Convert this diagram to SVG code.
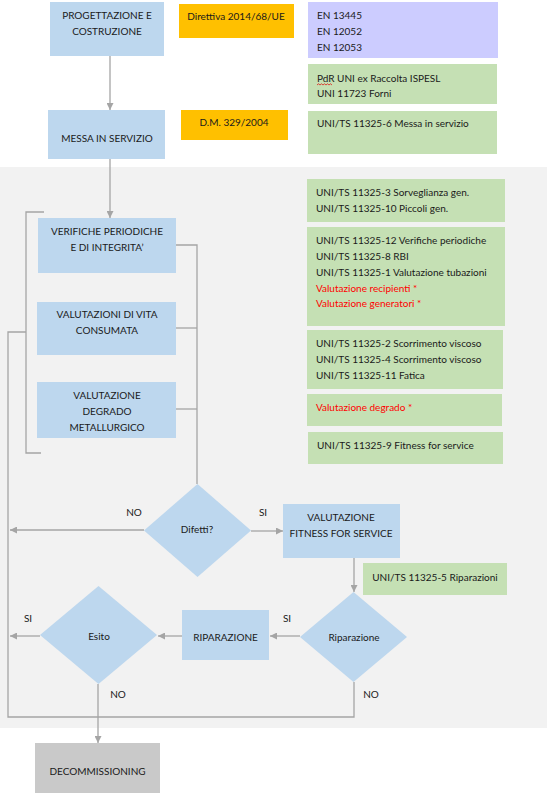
<svg xmlns="http://www.w3.org/2000/svg" width="550" height="794" viewBox="0 0 550 794">
<defs>
<style>
text{font-family:Lato,"Open Sans","Liberation Sans",sans-serif;font-size:10px;fill:#1a1a1a}
.c{text-anchor:middle}
.r{fill:#ff0000}
.blue{fill:#bdd7ee}
.green{fill:#c5e0b4}
.orange{fill:#ffc000}
.purple{fill:#ccccff}
.conn{fill:none;stroke:#a5a5a5;stroke-width:1.3}
</style>
<marker id="ah" viewBox="0 0 10 10" refX="10" refY="5" markerWidth="7" markerHeight="7" markerUnits="userSpaceOnUse" orient="auto">
<path d="M0,0 L10,5 L0,10 z" fill="#a5a5a5"/>
</marker>
</defs>
<rect x="0" y="0" width="550" height="794" fill="#ffffff"/>
<rect x="0" y="167" width="547" height="561" fill="#f2f2f2"/>

<g id="connectors">
<path class="conn" d="M110,56 V110" marker-end="url(#ah)"/>
<path class="conn" d="M110,159 V218" marker-end="url(#ah)"/>
<path class="conn" d="M44,212 H26 V453 H41"/>
<path class="conn" d="M26,332 H8 V717 H354 V682"/>
<path class="conn" d="M176,245 H197 V484"/>
<path class="conn" d="M176,328 H197"/>
<path class="conn" d="M175,409 H197"/>
<path class="conn" d="M144,530 H10" marker-end="url(#ah)"/>
<path class="conn" d="M251,531 H283" marker-end="url(#ah)"/>
<path class="conn" d="M354,558 V592" marker-end="url(#ah)"/>
<path class="conn" d="M300,636 H270" marker-end="url(#ah)"/>
<path class="conn" d="M182,636 H158" marker-end="url(#ah)"/>
<path class="conn" d="M40,636 H10" marker-end="url(#ah)"/>
<path class="conn" d="M98,684 V743" marker-end="url(#ah)"/>
</g>

<g id="progettazione">
<rect class="blue" x="50" y="2" width="114" height="54"/>
<text class="c" x="107" y="19">PROGETTAZIONE E</text>
<text class="c" x="107" y="35">COSTRUZIONE</text>
</g>
<g id="direttiva">
<rect class="orange" x="179" y="4" width="115" height="34"/>
<text class="c" x="236" y="20">Direttiva 2014/68/UE</text>
</g>
<g id="en">
<rect class="purple" x="308" y="2" width="190" height="56"/>
<text x="317" y="19">EN 13445</text>
<text x="317" y="35">EN 12052</text>
<text x="317" y="51">EN 12053</text>
</g>
<g id="pdr">
<rect class="green" x="308" y="64" width="189" height="40"/>
<text x="317" y="82">PdR UNI ex Raccolta ISPESL</text>
<text x="317" y="97">UNI 11723  Forni</text>
<path d="M317,85 l1.5,-1.2 l1.5,1.2 l1.5,-1.2 l1.5,1.2 l1.5,-1.2 l1.5,1.2 l1.5,-1.2 l1.5,1.2 l1.5,-1.2 l1.5,1.2" fill="none" stroke="#e00000" stroke-width="0.7"/>
</g>
<g id="messa">
<rect class="blue" x="48" y="110" width="117" height="49"/>
<text class="c" x="107" y="142">MESSA IN SERVIZIO</text>
</g>
<g id="dm">
<rect class="orange" x="181" y="110" width="107" height="30"/>
<text class="c" x="234" y="126">D.M. 329/2004</text>
</g>
<g id="uni6">
<rect class="green" x="308" y="111" width="189" height="43"/>
<text x="317" y="127">UNI/TS 11325-6 Messa in servizio</text>
</g>

<g id="verifiche">
<rect class="blue" x="38" y="218" width="138" height="55"/>
<text class="c" x="107" y="235">VERIFICHE PERIODICHE</text>
<text class="c" x="107" y="251">E DI INTEGRITA’</text>
</g>
<g id="vita">
<rect class="blue" x="37" y="302" width="139" height="53"/>
<text class="c" x="107" y="318">VALUTAZIONI DI VITA</text>
<text class="c" x="107" y="334">CONSUMATA</text>
</g>
<g id="degrado">
<rect class="blue" x="37" y="382" width="139" height="56"/>
<text class="c" x="107" y="399">VALUTAZIONE</text>
<text class="c" x="107" y="415">DEGRADO</text>
<text class="c" x="107" y="431">METALLURGICO</text>
</g>

<g id="uni3">
<rect class="green" x="307" y="179" width="198" height="43"/>
<text x="316" y="196">UNI/TS 11325-3 Sorveglianza gen.</text>
<text x="316" y="212">UNI/TS 11325-10 Piccoli gen.</text>
</g>
<g id="uni12">
<rect class="green" x="307" y="227" width="198" height="99"/>
<text x="316" y="244">UNI/TS 11325-12 Verifiche periodiche</text>
<text x="316" y="260">UNI/TS 11325-8 RBI</text>
<text x="316" y="276">UNI/TS 11325-1 Valutazione tubazioni</text>
<text class="r" x="316" y="292">Valutazione recipienti *</text>
<text class="r" x="316" y="307">Valutazione generatori *</text>
</g>
<g id="uni2">
<rect class="green" x="307" y="330" width="196" height="59"/>
<text x="316" y="347">UNI/TS 11325-2 Scorrimento viscoso</text>
<text x="316" y="363">UNI/TS 11325-4 Scorrimento viscoso</text>
<text x="316" y="379">UNI/TS 11325-11 Fatica</text>
</g>
<g id="valdegrado">
<rect class="green" x="307" y="394" width="195" height="32"/>
<text class="r" x="316" y="411">Valutazione degrado *</text>
</g>
<g id="uni9">
<rect class="green" x="308" y="432" width="195" height="32"/>
<text x="317" y="449">UNI/TS 11325-9 Fitness for service</text>
</g>

<g id="difetti">
<polygon class="blue" points="197.5,484 251,530.5 197.5,577 144,530.5"/>
<text class="c" x="197" y="533">Difetti?</text>
</g>
<g id="labels">
<text x="134" y="516" class="c">NO</text>
<text x="263" y="516" class="c">SI</text>
<text x="28" y="622" class="c">SI</text>
<text x="287" y="622" class="c">SI</text>
<text x="118" y="698" class="c">NO</text>
<text x="371" y="698" class="c">NO</text>
</g>
<g id="fitness">
<rect class="blue" x="283" y="504" width="117" height="54"/>
<text class="c" x="341" y="521">VALUTAZIONE</text>
<text class="c" x="341" y="537">FITNESS FOR SERVICE</text>
</g>
<g id="uni5">
<rect class="green" x="363" y="563" width="144" height="32"/>
<text class="c" x="435" y="581">UNI/TS 11325-5 Riparazioni</text>
</g>
<g id="riparazione-dec">
<polygon class="blue" points="353.5,592 407,637 353.5,682 300,637"/>
<text class="c" x="354" y="641">Riparazione</text>
</g>
<g id="riparazione">
<rect class="blue" x="182" y="610" width="87" height="50"/>
<text class="c" x="225.5" y="641">RIPARAZIONE</text>
</g>
<g id="esito">
<polygon class="blue" points="98.5,586 157,635 98.5,684 40,635"/>
<text class="c" x="99" y="640">Esito</text>
</g>
<g id="decommissioning">
<rect x="35" y="743" width="125" height="50" fill="#c9c9c9"/>
<text class="c" x="97.5" y="775">DECOMMISSIONING</text>
</g>
</svg>
